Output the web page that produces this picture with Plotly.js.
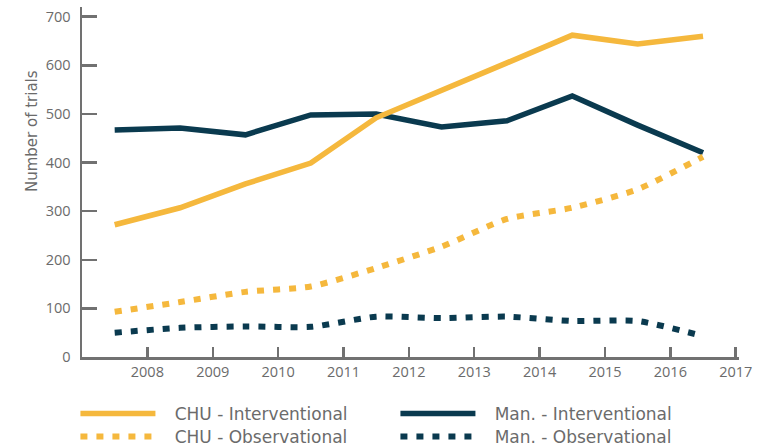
<!DOCTYPE html>
<html>
<head>
<meta charset="utf-8">
<script src="https://cdn.plot.ly/plotly-3.0.1.min.js"></script>
<style>html,body{margin:0;padding:0;background:#fff;}#chart{width:766px;height:448px;}</style>
</head>
<body>
<div id="chart"></div>
<script>
var years = [2007.5, 2008.5, 2009.5, 2010.5, 2011.5, 2012.5, 2013.5, 2014.5, 2015.5, 2016.5];
var chuInterventional = [272, 307, 356, 399, 492, 547, 605, 662, 644, 660];
var manInterventional = [467, 471, 457, 498, 500, 473, 486, 537, 477, 420];
var chuObservational = [93, 113, 134, 145, 183, 227, 284, 307, 345, 412];
var manObservational = [50, 60, 63, 62, 83, 80, 83, 74, 74, 43];
var seriesNames = ['CHU - Interventional', 'Man. - Interventional', 'CHU - Observational', 'Man. - Observational'];
var tickYears = [2008, 2009, 2010, 2011, 2012, 2013, 2014, 2015, 2016, 2017];
var tickLabels = ['2008', '2009', '2010', '2011', '2012', '2013', '2014', '2015', '2016', '2017'];
var yTicks = [0, 100, 200, 300, 400, 500, 600, 700];

var yellow = '#F5B83D';
var navy = '#0A3A4F';
var grey = '#717171';
var textGrey = '#6b6b6b';
var pad = '\u00a0\u00a0\u2009';

var traces = [
  {x: years, y: manInterventional, name: pad + seriesNames[1], legend: 'legend', legendrank: 2, mode: 'lines',
   line: {color: navy, width: 5.5}},
  {x: years, y: manObservational, name: pad + seriesNames[3], legend: 'legend2', legendrank: 4, mode: 'lines',
   line: {color: navy, width: 6, dash: '7px,9px', shape: 'spline', smoothing: 0.6}},
  {x: years, y: chuInterventional, name: pad + seriesNames[0], legend: 'legend', legendrank: 1, mode: 'lines',
   line: {color: yellow, width: 5.5}},
  {x: years, y: chuObservational, name: pad + seriesNames[2], legend: 'legend2', legendrank: 3, mode: 'lines',
   line: {color: yellow, width: 6, dash: '7px,9px', shape: 'spline', smoothing: 0.6}}
];

function legendBox(yPos) {
  return {orientation: 'h', x: -0.01, xanchor: 'left', y: yPos, yanchor: 'middle',
    entrywidth: 230, itemwidth: 75, font: {family: 'DejaVu Sans, sans-serif', size: 17, color: textGrey},
    tracegroupgap: 0, traceorder: 'normal', bgcolor: 'rgba(0,0,0,0)'};
}

var layout = {
  width: 766, height: 448,
  margin: {l: 82, r: 27, t: 7, b: 91, autoexpand: false},
  paper_bgcolor: '#fff', plot_bgcolor: '#fff',
  font: {family: 'Open Sans, sans-serif', color: textGrey, size: 14},
  showlegend: true,
  legend: legendBox(-0.1629),
  legend2: legendBox(-0.2286),
  xaxis: {range: [2007, 2017.05], tickvals: tickYears, ticktext: tickLabels,
    showgrid: false, zeroline: false, showline: true, linecolor: grey, linewidth: 2.5,
    ticks: 'inside', ticklen: 10, tickwidth: 2.5, tickcolor: grey,
    tickfont: {size: 14.5, color: textGrey}, fixedrange: true},
  yaxis: {range: [0, 720], tickvals: yTicks,
    showgrid: false, zeroline: false, showline: true, linecolor: grey, linewidth: 2.5,
    ticks: 'inside', ticklen: 15, tickwidth: 2.5, tickcolor: grey, ticklabelstandoff: 6,
    tickfont: {size: 14.5, color: textGrey}, fixedrange: true},
  annotations: [{text: 'Number of trials', xref: 'paper', yref: 'paper',
    x: -0.0928, y: 0.6457, textangle: -90, showarrow: false,
    font: {family: 'DejaVu Sans, sans-serif', size: 15, color: textGrey}}]
};

Plotly.newPlot('chart', traces, layout, {displayModeBar: false, staticPlot: true});
</script>
</body>
</html>
